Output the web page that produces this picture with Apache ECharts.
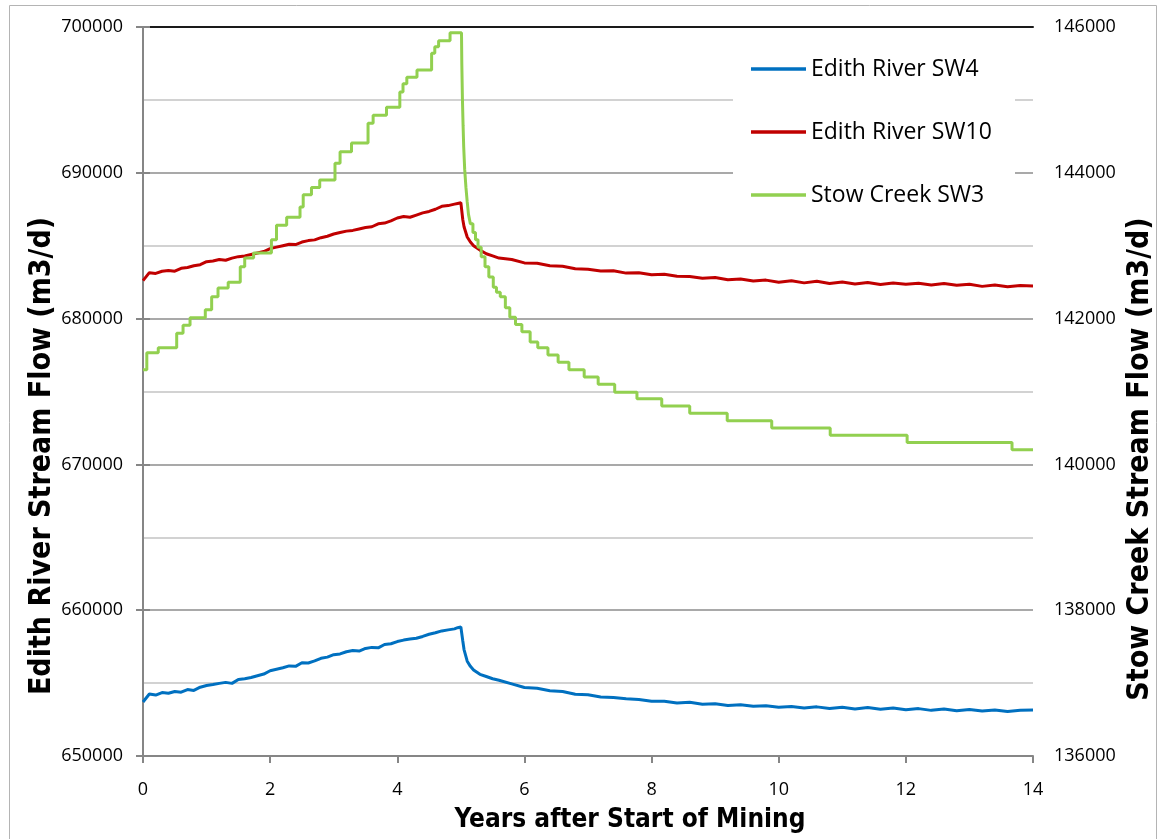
<!DOCTYPE html>
<html>
<head>
  <meta charset="utf-8">
  <title>Stream Flow</title>
  <script src="https://cdn.jsdelivr.net/npm/echarts@6.0.0/dist/echarts.min.js"></script>
</head>
<body style="margin:0">
  <div id="main" style="width:1158px;height:839px;"></div>
  <script type="text/javascript">
    var myChart = echarts.init(document.getElementById('main'));

    // years after start of mining (shared by the two Edith River gauges)
    var years = [
      0, 0.1, 0.2, 0.3, 0.4, 0.5, 0.6, 0.7, 0.8, 0.9,
      1.0, 1.1, 1.2, 1.3, 1.4, 1.5, 1.6, 1.7, 1.8, 1.9,
      2.0, 2.1, 2.2, 2.3, 2.4, 2.5, 2.6, 2.7, 2.8, 2.9,
      3.0, 3.1, 3.2, 3.3, 3.4, 3.5, 3.6, 3.7, 3.8, 3.9,
      4.0, 4.1, 4.2, 4.3, 4.4, 4.5, 4.6, 4.7, 4.8, 4.9,
      4.95, 5.0,
      5.03, 5.05, 5.1, 5.15, 5.2, 5.3, 5.4, 5.5, 5.6,
      5.8, 6.0, 6.2, 6.4, 6.6, 6.8, 7.0, 7.2, 7.4, 7.6,
      7.8, 8.0, 8.2, 8.4, 8.6, 8.8, 9.0, 9.2, 9.4, 9.6,
      9.8, 10.0, 10.2, 10.4, 10.6, 10.8, 11.0, 11.2, 11.4, 11.6,
      11.8, 12.0, 12.2, 12.4, 12.6, 12.8, 13.0, 13.2, 13.4, 13.6,
      13.8, 14.0
    ];

    var sw4 = [
      653700, 654250, 654180, 654350, 654300, 654420, 654380, 654560, 654500, 654720,
      654830, 654900, 654980, 655050, 654980, 655250, 655300, 655380, 655500, 655620,
      655850, 655950, 656050, 656180, 656150, 656400, 656380, 656520, 656700, 656780,
      656950, 657000, 657150, 657230, 657200, 657380, 657450, 657420, 657650, 657700,
      657850, 657950, 658020, 658080, 658200, 658350, 658450, 658580, 658650, 658720,
      658800, 658850,
      657900, 657300, 656500, 656150, 655900, 655600, 655450, 655300, 655200,
      654950, 654700, 654650, 654480, 654420, 654230, 654200, 654050, 654010, 653920,
      653880, 653760, 653750, 653640, 653680, 653550, 653590, 653470, 653510, 653410,
      653450, 653350, 653400, 653290, 653370, 653260, 653340, 653230, 653320, 653200,
      653290, 653170, 653250, 653130, 653220, 653100, 653190, 653080, 653160, 653050,
      653140, 653150
    ];

    var sw10 = [
      682600, 683150, 683100, 683250, 683300, 683250, 683450, 683500, 683620, 683700,
      683900, 683950, 684050, 684000, 684150, 684250, 684300, 684400, 684500, 684600,
      684800, 684900, 685000, 685100, 685080, 685250, 685350, 685400, 685550, 685650,
      685800, 685900, 686000, 686050, 686150, 686250, 686300, 686500, 686550, 686700,
      686900, 687000, 686950, 687100, 687250, 687350, 687500, 687700, 687750, 687850,
      687900, 687950,
      686800, 686300, 685600, 685250, 685000, 684700, 684450, 684300, 684150,
      684050, 683820, 683790, 683620, 683590, 683420, 683390, 683270, 683280, 683120,
      683140, 683010, 683040, 682900, 682880, 682760, 682820, 682660, 682720, 682580,
      682640, 682500, 682590, 682450, 682560, 682410, 682510, 682380, 682480, 682340,
      682440, 682360, 682420, 682300, 682400, 682280, 682350, 682210, 682300, 682180,
      682270, 682240
    ];

    // Stow Creek is stepped: each value holds until the next year entry
    var stowYears = [
      0, 0.06, 0.24, 0.53, 0.63, 0.74, 0.98, 1.08, 1.18, 1.34,
      1.53, 1.60, 1.74, 2.02, 2.10, 2.26, 2.47, 2.52, 2.65, 2.78,
      3.02, 3.10, 3.28, 3.54, 3.62, 3.83, 4.04, 4.09, 4.15, 4.31,
      4.54, 4.59, 4.65, 4.83,
      5.01, 5.015, 5.025, 5.035, 5.045, 5.06, 5.08, 5.10, 5.12, 5.15,
      5.19, 5.23, 5.27, 5.32, 5.38, 5.44, 5.51, 5.56, 5.62, 5.70,
      5.77, 5.86, 5.96, 6.09, 6.21, 6.37, 6.53, 6.70, 6.94, 7.16,
      7.42, 7.77, 8.16, 8.60, 9.19, 9.89, 10.81, 12.02, 13.67, 14.0
    ];
    var sw3 = [
      141300, 141530, 141600, 141800, 141910, 142010, 142120, 142300, 142420, 142500,
      142710, 142830, 142900, 143080, 143280, 143390, 143530, 143700, 143800, 143900,
      144130, 144290, 144410, 144680, 144790, 144900, 145110, 145220, 145310, 145410,
      145640, 145730, 145810, 145920,
      145920, 145500, 145000, 144650, 144350, 144050, 143800, 143600, 143430, 143300,
      143180, 143080, 142980, 142850, 142710, 142570, 142430, 142360, 142300, 142150,
      142020, 141920, 141820, 141680, 141600, 141500, 141400, 141300, 141200, 141100,
      140990, 140900, 140800, 140700, 140600, 140500, 140400, 140300, 140200, 140200
    ];

    function pairs(xs, ys) {
      var out = [];
      for (var i = 0; i < xs.length; i++) out.push([xs[i], ys[i]]);
      return out;
    }

    function plain(v) { return String(v); }

    var tickFont = { fontFamily: 'Open Sans', fontSize: 18, color: '#000' };
    var titleFamily = '"Liberation Sans Narrow", "DejaVu Sans Condensed", sans-serif';

    option = {
      animation: false,
      grid: { left: 143, right: 125, top: 27, bottom: 83 },
      legend: {
        orient: 'vertical',
        left: 751,
        top: 54,
        padding: 0,
        icon: 'rect',
        itemWidth: 55,
        itemHeight: 3.5,
        itemGap: 33,
        textStyle: { fontFamily: 'Open Sans', fontSize: 23, color: '#000', lineHeight: 30 },
        data: ['Edith River SW4', 'Edith River SW10', 'Stow Creek SW3']
      },
      xAxis: [{
        type: 'value',
        min: 0, max: 14, interval: 2,
        axisLine: { lineStyle: { color: '#868686', width: 2 } },
        axisTick: { show: true, length: 7, lineStyle: { color: '#868686', width: 2 } },
        axisLabel: Object.assign({ margin: 25, formatter: plain }, tickFont),
        splitLine: { show: false }
      }, {
        type: 'value',
        position: 'top',
        min: 0, max: 14,
        axisLine: { show: true, lineStyle: { color: '#1a1a1a', width: 2 } },
        axisTick: { show: false },
        axisLabel: { show: false },
        splitLine: { show: false }
      }],
      yAxis: [{
        type: 'value',
        min: 650000, max: 700000, interval: 10000,
        axisLine: { show: true, lineStyle: { color: '#868686', width: 2 } },
        axisTick: { show: true, length: 7, lineStyle: { color: '#868686', width: 2 } },
        axisLabel: Object.assign({ margin: 20, formatter: plain }, tickFont),
        splitLine: { show: true, lineStyle: { color: '#8c8c8c', width: 1.5 } },
        minorTick: { show: false, splitNumber: 2 },
        minorSplitLine: { show: true, lineStyle: { color: '#c4c4c4', width: 1.5 } }
      }, {
        type: 'value',
        min: 136000, max: 146000, interval: 2000,
        axisLine: { show: true, lineStyle: { color: '#868686', width: 2 } },
        axisTick: { show: true, length: 7, lineStyle: { color: '#868686', width: 2 } },
        axisLabel: Object.assign({ margin: 21, formatter: plain }, tickFont),
        splitLine: { show: false }
      }],
      graphic: [
        { type: 'rect', z: 1, shape: { x: 733, y: 35, width: 282, height: 192 }, style: { fill: '#fff' } },
        { type: 'rect', z: 0, shape: { x: 9.5, y: 5.5, width: 1147, height: 850 },
          style: { fill: 'none', stroke: '#b4b4b4', lineWidth: 1 } },
        { type: 'text', z: 5, x: 42, y: 456, rotation: Math.PI / 2,
          style: { text: 'Edith River Stream Flow (m3/d)', font: 'bold 30px ' + titleFamily, fill: '#000',
                   align: 'center', verticalAlign: 'middle', textAlign: 'center', textVerticalAlign: 'middle' } },
        { type: 'text', z: 5, x: 1140, y: 459, rotation: Math.PI / 2,
          style: { text: 'Stow Creek Stream Flow (m3/d)', font: 'bold 30px ' + titleFamily, fill: '#000',
                   align: 'center', verticalAlign: 'middle', textAlign: 'center', textVerticalAlign: 'middle' } },
        { type: 'text', z: 5, x: 630, y: 820,
          style: { text: 'Years after Start of Mining', font: 'bold 26px ' + titleFamily, fill: '#000',
                   align: 'center', verticalAlign: 'middle', textAlign: 'center', textVerticalAlign: 'middle' } }
      ],
      series: [{
        name: 'Edith River SW4',
        type: 'line',
        symbol: 'none',
        data: pairs(years, sw4),
        lineStyle: { color: '#0070C0', width: 3 },
        itemStyle: { color: '#0070C0' },
        z: 3
      }, {
        name: 'Edith River SW10',
        type: 'line',
        symbol: 'none',
        data: pairs(years, sw10),
        lineStyle: { color: '#C00000', width: 3 },
        itemStyle: { color: '#C00000' },
        z: 3
      }, {
        name: 'Stow Creek SW3',
        type: 'line',
        yAxisIndex: 1,
        step: 'end',
        symbol: 'none',
        data: pairs(stowYears, sw3),
        lineStyle: { color: '#92D050', width: 3 },
        itemStyle: { color: '#92D050' },
        z: 3
      }]
    };

    myChart.setOption(option);
  </script>
</body>
</html>
